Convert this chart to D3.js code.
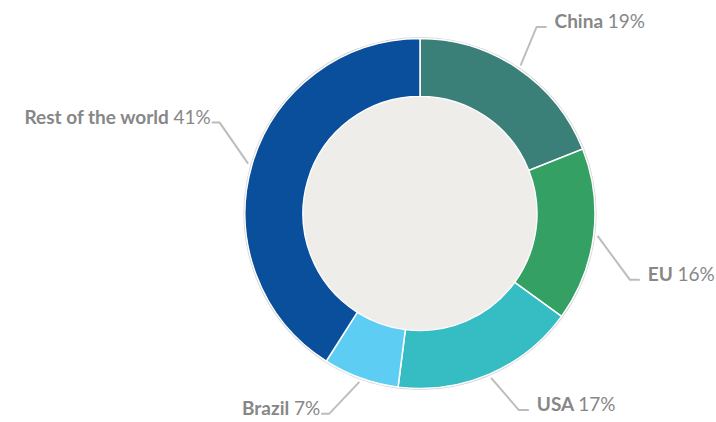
<!DOCTYPE html>
<html>
<head>
<meta charset="utf-8">
<script src="https://cdn.jsdelivr.net/npm/d3@7"></script>
<style>
  body { margin: 0; background: #fff; }
  .lbl { font-family: Lato, "Open Sans", sans-serif; font-size: 19px; fill: #878787; }
</style>
</head>
<body>
<div id="chart"></div>
<script>
var categories = ["China", "EU", "USA", "Brazil", "Rest of the world"];
var shares = [19, 16, 17, 7, 41];
var colors = ["#3a7f78", "#34a064", "#36bcc3", "#5ecdf3", "#0a4f9b"];

var svgWidth = 716;
var svgHeight = 422;
var cx = 420, cy = 213.5;
var outerR = 175, innerR = 117;
var elbowR = 220;
// nudge label angles (degrees) so labels spread like the original
var labelShift = [-2.2, 10.3, -3.3, 4.6, 8.2];

var data = categories.map(function(c, i) {
  return { name: c, value: shares[i], color: colors[i], shift: labelShift[i] };
});

var svg = d3.select("#chart")
  .append("svg")
  .attr("width", svgWidth)
  .attr("height", svgHeight);

var g = svg.append("g")
  .attr("transform", `translate(${cx}, ${cy})`);

var pie = d3.pie().sort(null).value(d => d.value);
var arcs = pie(data);

var arc = d3.arc().innerRadius(innerR).outerRadius(outerR);

// faint outer ring
g.append("circle")
  .attr("r", outerR + 0.8)
  .attr("fill", "none")
  .attr("stroke", "#d4d4d4")
  .attr("stroke-width", 1.5);

g.selectAll("path.slice")
  .data(arcs)
  .enter()
  .append("path")
  .attr("class", "slice")
  .attr("d", arc)
  .attr("fill", d => d.data.color)
  .attr("stroke", "#fff")
  .attr("stroke-width", 1.5);

g.append("circle")
  .attr("r", innerR - 0.5)
  .attr("fill", "#efedea");

// leader lines + labels
arcs.forEach(function(d) {
  var mid = (d.startAngle + d.endAngle) / 2;
  var a2 = mid + d.data.shift * Math.PI / 180;
  var x0 = Math.sin(mid) * (outerR + 4), y0 = -Math.cos(mid) * (outerR + 4);
  var x1 = Math.sin(a2) * elbowR, y1 = -Math.cos(a2) * elbowR;
  var right = x1 > 0;
  var x2 = x1 + (right ? 10 : -8);

  g.append("polyline")
    .attr("points", [[x0, y0], [x1, y1], [x2, y1]].map(p => p.join(",")).join(" "))
    .attr("fill", "none")
    .attr("stroke", "#bdbdbd")
    .attr("stroke-width", 2);

  var t = g.append("text")
    .attr("class", "lbl")
    .attr("x", x2 + (right ? 8 : -1))
    .attr("y", y1 + 1)
    .attr("text-anchor", right ? "start" : "end");
  t.append("tspan").attr("font-weight", 700).text(d.data.name + " ");
  t.append("tspan").attr("font-weight", 400).text(d.data.value + "%");
});
</script>
</body>
</html>
